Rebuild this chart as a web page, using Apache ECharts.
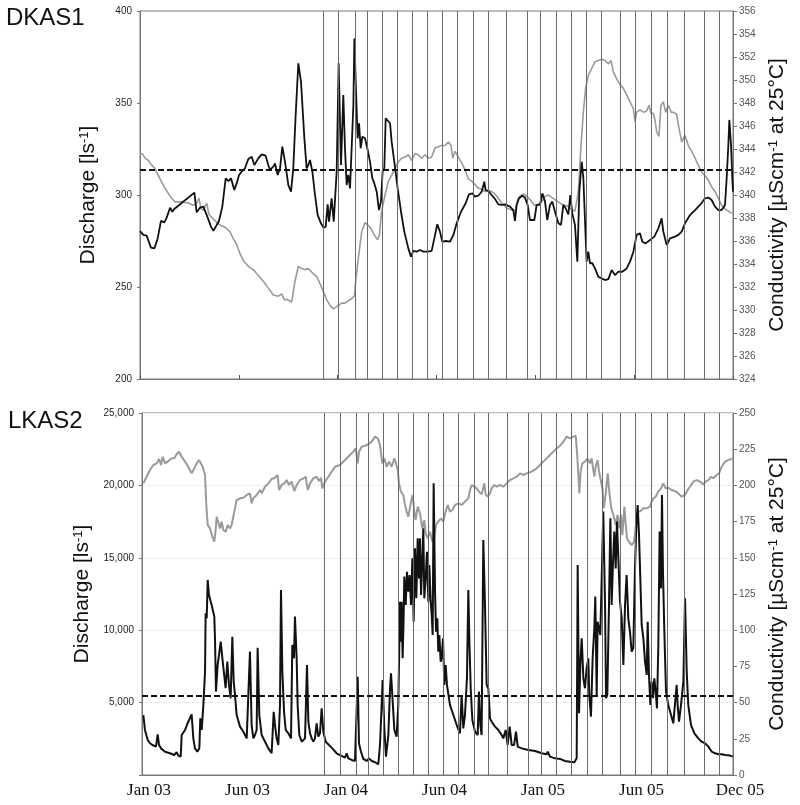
<!DOCTYPE html>
<html>
<head>
<meta charset="utf-8">
<title>DKAS1 / LKAS2</title>
<script src="https://cdn.jsdelivr.net/npm/echarts@6/dist/echarts.min.js"></script>
<style>
  html, body { margin: 0; padding: 0; background: #fff; }
  #chart { width: 800px; height: 805px; }
</style>
</head>
<body>
<div id="chart"></div>
<script>
// x is measured in label intervals: 0 = Jan 03 ... 6 = Dec 05
var xLabels = ['Jan 03', 'Jun 03', 'Jan 04', 'Jun 04', 'Jan 05', 'Jun 05', 'Dec 05'];

// sampling events (vertical lines), same in both panels
var eventMarks = [1.85, 2.01, 2.18, 2.30, 2.45, 2.60, 2.755, 2.907, 3.059, 3.213, 3.365, 3.52, 3.71,
  3.917, 4.05, 4.208, 4.36, 4.517, 4.669, 4.861, 5.01, 5.17, 5.328, 5.513, 5.705, 5.86];

var dkasMeanQ = 313.5;
var lkasMeanQ = 5450;

// DKAS1 discharge [l/s]
var dkasQ = [[0,280.4],[0.034,278.3],[0.067,277.9],[0.111,271.4],[0.145,271.0],[0.179,276.4],[0.212,285.9],[0.246,285.1],[0.270,287.7],[0.287,287.3],[0.304,293.1],[0.327,290.9],[0.347,292.4],[0.550,301.3],[0.573,290.6],[0.607,293.1],[0.641,293.7],[0.675,289.1],[0.718,282.8],[0.742,280.6],[0.776,283.7],[0.799,285.9],[0.833,293.7],[0.867,309.1],[0.894,307.6],[0.921,309.1],[0.954,302.7],[0.978,306.3],[1.002,310.9],[1.029,312.7],[1.062,314.5],[1.096,319.6],[1.130,320.8],[1.157,316.3],[1.197,319.9],[1.231,322.1],[1.271,321.4],[1.298,316.3],[1.315,313.6],[1.349,315.4],[1.366,317.2],[1.393,310.9],[1.417,314.5],[1.440,326.3],[1.467,318.1],[1.501,305.4],[1.528,301.8],[1.551,314.5],[1.575,343.5],[1.602,371.6],[1.629,361.6],[1.663,330.8],[1.686,314.5],[1.703,316.3],[1.720,319.0],[1.744,312.7],[1.771,300.0],[1.798,289.1],[1.831,284.6],[1.858,282.2],[1.879,282.8],[1.899,294.9],[1.912,285.5],[1.939,298.2],[1.960,285.5],[1.973,284.6],[1.990,312.7],[2.010,371.6],[2.034,316.3],[2.057,354.3],[2.074,325.4],[2.091,305.4],[2.108,310.9],[2.125,303.6],[2.142,303.6],[2.159,348.9],[2.169,385.1],[2.186,356.2],[2.202,330.8],[2.216,339.0],[2.233,325.4],[2.250,331.7],[2.277,330.8],[2.300,325.4],[2.327,318.1],[2.351,309.1],[2.371,306.3],[2.395,301.8],[2.418,291.8],[2.438,296.4],[2.455,312.7],[2.472,314.5],[2.486,341.7],[2.506,340.8],[2.530,339.0],[2.546,329.0],[2.573,318.1],[2.607,303.6],[2.641,290.9],[2.674,280.1],[2.715,271.0],[2.742,266.5],[2.766,269.6],[2.799,269.2],[2.833,270.1],[2.867,269.2],[2.911,269.2],[2.951,269.6],[2.978,276.4],[3.008,284.1],[3.035,280.1],[3.059,274.6],[3.093,275.0],[3.137,274.6],[3.171,278.3],[3.204,284.6],[3.248,290.9],[3.295,295.5],[3.329,300.4],[3.363,300.9],[3.390,299.1],[3.423,299.6],[3.457,301.8],[3.484,307.2],[3.497,302.7],[3.524,302.2],[3.558,300.0],[3.592,297.8],[3.626,294.9],[3.659,294.6],[3.693,294.9],[3.744,293.7],[3.777,291.8],[3.794,285.9],[3.811,294.6],[3.835,298.2],[3.868,299.6],[3.895,298.6],[3.922,294.6],[3.946,286.4],[3.990,286.4],[4.013,294.6],[4.047,294.6],[4.071,300.9],[4.098,296.4],[4.121,286.4],[4.148,294.6],[4.172,296.4],[4.199,290.9],[4.233,284.6],[4.260,283.7],[4.283,294.6],[4.307,292.8],[4.334,289.5],[4.354,300.0],[4.374,290.0],[4.401,283.7],[4.425,263.8],[4.445,301.8],[4.469,318.1],[4.486,309.1],[4.503,285.5],[4.519,263.8],[4.536,269.2],[4.553,262.9],[4.577,262.9],[4.604,260.1],[4.637,255.6],[4.671,254.7],[4.705,253.8],[4.739,254.3],[4.772,259.2],[4.806,256.5],[4.840,258.3],[4.880,258.3],[4.924,260.1],[4.958,263.8],[4.992,269.2],[5.025,278.3],[5.059,279.2],[5.083,274.6],[5.116,273.7],[5.160,275.5],[5.204,277.4],[5.245,281.9],[5.278,287.3],[5.295,280.1],[5.329,272.8],[5.363,276.4],[5.413,277.4],[5.447,278.3],[5.481,280.1],[5.514,284.6],[5.565,289.1],[5.616,291.8],[5.666,294.6],[5.717,298.2],[5.750,298.6],[5.784,297.3],[5.818,293.7],[5.852,291.8],[5.885,291.8],[5.919,294.6],[5.936,309.1],[5.953,327.2],[5.963,340.8],[5.980,327.2],[5.993,309.1],[6.0,301.8]];

// DKAS1 conductivity [uS/cm at 25 C]
var dkasC = [[0,343.5],[0.024,343.6],[0.051,343.2],[0.084,343.0],[0.118,342.6],[0.152,342.3],[0.202,341.4],[0.253,340.6],[0.304,339.9],[0.354,339.4],[0.422,339.4],[0.489,339.3],[0.540,339.1],[0.573,339.3],[0.597,339.7],[0.617,338.8],[0.641,338.7],[0.675,339.3],[0.698,338.3],[0.732,338.0],[0.766,337.7],[0.809,337.4],[0.860,337.2],[0.911,336.8],[0.944,336.2],[0.978,335.7],[1.012,334.9],[1.046,334.3],[1.096,333.8],[1.147,333.5],[1.197,333.0],[1.248,332.5],[1.298,331.9],[1.349,331.3],[1.400,331.2],[1.433,331.4],[1.460,330.9],[1.494,330.9],[1.535,330.7],[1.568,332.5],[1.602,333.8],[1.636,333.6],[1.669,333.5],[1.703,333.6],[1.737,333.3],[1.788,332.9],[1.821,332.3],[1.855,331.6],[1.889,330.9],[1.922,330.4],[1.956,330.1],[1.990,330.3],[2.040,330.6],[2.074,330.6],[2.108,330.8],[2.142,331.0],[2.169,331.2],[2.186,332.8],[2.209,334.5],[2.243,336.8],[2.277,337.6],[2.304,337.4],[2.337,337.1],[2.371,336.5],[2.405,336.1],[2.422,336.5],[2.445,338.6],[2.479,340.0],[2.513,341.2],[2.546,341.7],[2.580,342.3],[2.614,342.9],[2.648,343.2],[2.681,343.3],[2.715,343.5],[2.749,343.0],[2.782,343.6],[2.816,343.5],[2.850,343.2],[2.884,343.5],[2.917,343.2],[2.951,343.3],[2.985,344.1],[3.019,344.2],[3.052,344.3],[3.086,344.3],[3.120,344.6],[3.147,344.3],[3.164,343.2],[3.187,343.8],[3.221,343.3],[3.255,342.8],[3.288,342.2],[3.322,341.4],[3.356,341.2],[3.390,340.9],[3.423,340.6],[3.457,340.5],[3.491,340.3],[3.524,340.4],[3.558,340.3],[3.592,340.1],[3.626,339.7],[3.659,339.3],[3.693,339.0],[3.727,338.8],[3.761,338.7],[3.794,338.6],[3.821,339.6],[3.845,339.9],[3.879,340.1],[3.912,339.9],[3.946,339.6],[3.990,339.1],[4.030,339.2],[4.064,339.4],[4.098,339.9],[4.132,340.0],[4.165,339.8],[4.199,339.6],[4.233,339.4],[4.267,339.2],[4.300,339.1],[4.334,339.0],[4.368,338.7],[4.401,338.6],[4.435,340.3],[4.462,344.3],[4.486,347.2],[4.509,349.3],[4.536,350.4],[4.570,351.0],[4.604,351.6],[4.637,351.7],[4.671,351.8],[4.705,351.7],[4.739,351.4],[4.766,351.7],[4.789,350.7],[4.823,350.1],[4.857,349.6],[4.890,349.3],[4.924,348.7],[4.958,348.1],[4.992,347.5],[5.008,346.4],[5.025,347.2],[5.059,347.4],[5.093,347.2],[5.126,347.3],[5.150,347.8],[5.170,347.1],[5.194,347.1],[5.211,346.5],[5.228,345.5],[5.251,345.1],[5.271,347.8],[5.295,348.1],[5.319,347.2],[5.346,347.8],[5.373,347.2],[5.396,347.2],[5.430,347.0],[5.447,346.1],[5.481,344.6],[5.514,345.2],[5.548,344.3],[5.582,343.8],[5.616,343.2],[5.649,342.6],[5.683,342.0],[5.717,341.7],[5.750,341.3],[5.784,340.7],[5.818,340.3],[5.852,339.7],[5.885,339.1],[5.919,338.8],[5.953,338.6],[5.987,338.4]];

// LKAS2 discharge [l/s]
var lkasQ = [[0.014,4140],[0.030,3110],[0.058,2420],[0.081,2190],[0.105,2070],[0.125,2120],[0.142,1960],[0.159,2810],[0.173,2070],[0.193,1840],[0.234,1610],[0.284,1500],[0.328,1380],[0.352,1570],[0.369,1340],[0.393,1270],[0.403,2760],[0.437,3110],[0.470,3680],[0.504,4190],[0.521,2530],[0.538,1840],[0.562,1610],[0.582,1840],[0.592,3910],[0.606,3110],[0.623,4830],[0.640,7140],[0.646,11170],[0.657,10820],[0.667,13470],[0.680,12430],[0.707,11740],[0.734,10940],[0.741,9440],[0.751,5760],[0.768,7600],[0.782,8290],[0.799,9210],[0.816,8060],[0.832,8060],[0.849,5990],[0.866,7830],[0.883,6220],[0.900,5300],[0.917,9550],[0.931,6450],[0.944,5530],[0.961,4140],[0.995,3340],[1.029,2990],[1.063,2530],[1.080,2420],[1.096,8520],[1.113,3450],[1.130,2530],[1.147,2760],[1.164,3110],[1.174,8790],[1.191,4140],[1.215,2760],[1.249,2300],[1.283,1840],[1.316,1500],[1.337,4370],[1.350,3450],[1.367,2530],[1.384,2070],[1.401,4830],[1.411,12780],[1.425,7140],[1.442,4370],[1.459,3110],[1.486,2880],[1.513,2530],[1.526,8980],[1.543,8060],[1.553,10940],[1.570,8060],[1.580,4830],[1.597,2760],[1.621,2300],[1.655,2530],[1.675,7600],[1.689,3680],[1.706,2880],[1.723,2530],[1.739,2300],[1.756,2530],[1.773,3570],[1.790,2650],[1.807,2880],[1.824,4600],[1.841,2990],[1.865,2300],[1.898,2070],[1.932,1840],[1.976,1500],[2.010,1380],[2.027,1270],[2.061,1200],[2.078,1500],[2.095,1150],[2.129,1040],[2.162,970],[2.179,880],[2.190,6790],[2.203,2190],[2.223,1610],[2.247,1110],[2.281,970],[2.305,1150],[2.332,970],[2.366,880],[2.399,740],[2.416,2070],[2.433,4830],[2.443,6560],[2.460,3220],[2.477,1270],[2.501,2760],[2.518,5990],[2.528,7020],[2.541,5530],[2.562,3110],[2.585,2650],[2.602,4830],[2.609,7600],[2.619,11970],[2.629,9210],[2.636,11970],[2.646,8060],[2.656,10820],[2.663,13700],[2.677,11740],[2.690,14040],[2.704,12660],[2.717,13810],[2.731,11740],[2.745,14960],[2.758,10590],[2.772,15650],[2.785,12200],[2.799,16340],[2.812,13580],[2.822,16340],[2.833,12430],[2.846,14960],[2.856,17040],[2.866,12200],[2.880,13580],[2.893,15420],[2.907,11970],[2.917,14500],[2.931,11970],[2.941,11050],[2.951,9670],[2.961,20140],[2.975,12660],[2.985,9900],[2.998,10820],[3.008,8520],[3.019,9670],[3.032,7830],[3.042,8060],[3.056,9440],[3.069,6220],[3.083,7600],[3.096,6220],[3.127,4830],[3.161,4140],[3.195,3450],[3.228,2880],[3.245,5530],[3.262,3220],[3.279,4140],[3.299,6680],[3.313,12780],[3.323,9440],[3.337,5990],[3.354,3800],[3.381,2990],[3.408,2760],[3.421,5760],[3.435,3450],[3.448,2760],[3.465,16230],[3.482,11740],[3.499,6220],[3.516,5990],[3.533,3910],[3.550,3680],[3.584,3340],[3.618,3110],[3.651,2760],[3.668,2530],[3.692,3110],[3.712,2070],[3.733,3340],[3.753,2070],[3.777,2070],[3.797,2990],[3.814,1960],[3.855,1840],[3.922,1730],[3.990,1660],[4.058,1500],[4.108,1430],[4.118,1610],[4.142,1270],[4.193,1150],[4.244,1110],[4.294,970],[4.345,920],[4.389,880],[4.413,1150],[4.423,14500],[4.437,4260],[4.450,7600],[4.464,9440],[4.481,6680],[4.497,5990],[4.514,7370],[4.531,8060],[4.541,5530],[4.558,4030],[4.575,8060],[4.592,10130],[4.602,12320],[4.616,5530],[4.626,10590],[4.640,10590],[4.653,9670],[4.667,13580],[4.683,18190],[4.701,11740],[4.711,5300],[4.724,5530],[4.741,11740],[4.755,17730],[4.768,11740],[4.782,14730],[4.795,16810],[4.809,14270],[4.822,17500],[4.836,14960],[4.853,11970],[4.870,10820],[4.887,7600],[4.904,11740],[4.920,13810],[4.937,10820],[4.954,9900],[4.971,8520],[4.988,8750],[5.005,14270],[5.019,17270],[5.032,18650],[5.046,16570],[5.059,13580],[5.073,10360],[5.090,9440],[5.107,7830],[5.124,6910],[5.134,10590],[5.147,6910],[5.161,4830],[5.174,6450],[5.188,5300],[5.201,6680],[5.215,5760],[5.228,4600],[5.242,8980],[5.255,16810],[5.269,12890],[5.279,19340],[5.289,14040],[5.303,9900],[5.320,5760],[5.343,4830],[5.371,4140],[5.394,3570],[5.411,3450],[5.428,6220],[5.438,4830],[5.452,3680],[5.472,4830],[5.496,6450],[5.513,12200],[5.530,7140],[5.546,4830],[5.574,3450],[5.608,2880],[5.648,2530],[5.682,2300],[5.716,2190],[5.750,1960],[5.784,1610],[5.818,1500],[5.852,1430],[5.886,1430],[5.920,1380],[5.970,1340],[5.997,1270]];

// LKAS2 conductivity [uS/cm at 25 C]
var lkasC = [[0.014,201.4],[0.047,206.0],[0.081,210.6],[0.115,214.1],[0.149,215.2],[0.173,218.2],[0.193,214.1],[0.210,219.8],[0.234,215.2],[0.267,216.8],[0.301,218.7],[0.328,218.7],[0.352,221.5],[0.376,223.3],[0.403,219.8],[0.437,216.4],[0.470,212.9],[0.504,208.3],[0.531,211.8],[0.555,215.2],[0.579,217.5],[0.596,218.7],[0.616,212.9],[0.640,207.2],[0.653,186.5],[0.667,172.7],[0.690,170.3],[0.714,164.6],[0.734,161.1],[0.748,169.2],[0.758,178.4],[0.775,179.6],[0.792,170.3],[0.809,175.0],[0.826,169.2],[0.849,168.0],[0.870,172.7],[0.893,170.3],[0.910,172.7],[0.927,178.4],[0.944,184.2],[0.961,189.9],[0.995,191.1],[1.029,191.5],[1.063,193.4],[1.096,194.5],[1.113,187.6],[1.130,191.1],[1.164,193.4],[1.198,196.8],[1.215,194.5],[1.249,199.1],[1.283,201.4],[1.316,204.4],[1.350,205.3],[1.377,207.2],[1.391,196.8],[1.418,200.3],[1.445,201.4],[1.469,203.7],[1.492,200.3],[1.519,202.6],[1.547,196.1],[1.570,200.3],[1.604,203.7],[1.638,204.9],[1.662,206.0],[1.682,196.8],[1.706,201.4],[1.739,204.9],[1.773,206.0],[1.797,203.0],[1.817,205.3],[1.831,198.0],[1.858,202.6],[1.892,206.0],[1.926,209.5],[1.959,212.9],[2.010,214.1],[2.061,217.5],[2.112,221.0],[2.146,223.3],[2.169,225.6],[2.190,215.2],[2.203,223.3],[2.230,226.7],[2.264,227.4],[2.298,228.4],[2.332,230.2],[2.366,233.7],[2.393,232.5],[2.416,227.9],[2.440,215.2],[2.460,218.7],[2.484,212.9],[2.508,216.4],[2.535,212.9],[2.562,218.7],[2.579,215.2],[2.596,210.6],[2.609,201.4],[2.629,195.7],[2.653,193.4],[2.670,186.5],[2.687,181.9],[2.704,178.4],[2.731,188.8],[2.748,193.4],[2.765,181.9],[2.778,176.1],[2.799,185.3],[2.822,180.7],[2.846,170.3],[2.866,176.1],[2.880,166.9],[2.900,163.4],[2.924,168.0],[2.948,161.1],[2.968,164.6],[2.985,172.7],[3.008,175.0],[3.035,177.3],[3.059,175.0],[3.083,181.9],[3.103,186.5],[3.127,181.9],[3.151,183.0],[3.178,186.5],[3.212,187.6],[3.245,186.5],[3.279,188.8],[3.313,191.1],[3.330,196.8],[3.347,200.3],[3.374,199.1],[3.398,198.0],[3.421,195.7],[3.448,193.8],[3.475,201.4],[3.489,193.8],[3.509,192.2],[3.533,194.5],[3.550,198.0],[3.577,200.3],[3.601,199.1],[3.635,200.3],[3.668,199.1],[3.702,201.4],[3.736,203.7],[3.770,204.9],[3.804,206.0],[3.838,208.3],[3.871,207.2],[3.905,208.3],[3.956,209.5],[4.007,211.8],[4.024,212.9],[4.074,216.4],[4.125,219.8],[4.176,223.3],[4.210,225.6],[4.244,227.4],[4.278,230.2],[4.311,233.7],[4.345,232.5],[4.379,233.7],[4.403,234.3],[4.416,223.3],[4.430,207.2],[4.440,194.5],[4.453,209.5],[4.470,215.2],[4.497,216.4],[4.524,218.7],[4.548,215.2],[4.565,218.7],[4.582,219.8],[4.592,206.0],[4.609,214.1],[4.626,217.5],[4.640,209.5],[4.657,203.7],[4.677,196.8],[4.687,184.2],[4.707,193.4],[4.728,208.3],[4.741,198.0],[4.761,185.3],[4.775,186.5],[4.795,177.3],[4.809,172.7],[4.829,179.6],[4.846,170.3],[4.863,179.6],[4.877,165.7],[4.897,185.3],[4.910,173.8],[4.924,163.4],[4.944,161.1],[4.971,158.8],[4.995,161.1],[5.015,172.7],[5.032,181.9],[5.056,181.9],[5.090,184.2],[5.124,184.2],[5.157,185.3],[5.174,188.8],[5.194,191.1],[5.215,192.2],[5.242,195.7],[5.269,198.0],[5.292,201.4],[5.316,198.0],[5.343,198.4],[5.377,196.8],[5.411,196.1],[5.445,194.5],[5.479,192.2],[5.513,193.4],[5.540,196.8],[5.563,199.1],[5.597,202.6],[5.631,203.7],[5.665,202.6],[5.699,200.7],[5.723,202.6],[5.750,203.7],[5.777,206.0],[5.800,204.9],[5.834,207.2],[5.858,208.3],[5.885,212.9],[5.919,216.4],[5.953,217.5],[5.997,218.7]];

var chart = echarts.init(document.getElementById('chart'));

var sans = 'Liberation Sans, Arial, sans-serif';
var axisGray = '#777';

function nameRich() {
  return {
    n: { fontSize: 21, fontFamily: sans, color: '#111', verticalAlign: 'bottom' },
    s: { fontSize: 13, fontFamily: sans, color: '#111', verticalAlign: 'top' }
  };
}

function eventLines() {
  return {
    silent: true,
    symbol: 'none',
    label: { show: false },
    lineStyle: { color: '#6a6a6a', width: 1, type: 'solid' },
    data: eventMarks.map(function (x) { return { xAxis: x }; })
  };
}

function meanLine(v) {
  return {
    silent: true,
    symbol: 'none',
    label: { show: false },
    lineStyle: { color: '#111', width: 2, type: [6, 3] },
    data: [{ yAxis: v }]
  };
}

function leftAxis(grid, min, max, step, nm, fmt) {
  return {
    gridIndex: grid, type: 'value', position: 'left', min: min, max: max, interval: step,
    axisLine: { show: true, lineStyle: { color: axisGray } },
    axisTick: { show: true, length: 3, lineStyle: { color: axisGray } },
    axisLabel: { fontSize: 10, fontFamily: sans, color: '#222', margin: 8, formatter: fmt },
    splitLine: { show: grid === 1, lineStyle: { color: '#efefef' } },
    name: nm, nameLocation: 'middle', nameRotate: 90, nameGap: 41,
    nameTextStyle: { rich: nameRich() }
  };
}

function rightAxis(grid, min, max, step) {
  return {
    gridIndex: grid, type: 'value', position: 'right', min: min, max: max, interval: step,
    axisLine: { show: true, lineStyle: { color: axisGray } },
    axisTick: { show: true, length: 4, lineStyle: { color: axisGray } },
    axisLabel: { fontSize: 10, fontFamily: sans, color: '#555', margin: 6 },
    splitLine: { show: false },
    name: '{n|Conductivity [µScm}{s|-1}{n| at 25°C]}', nameLocation: 'middle', nameRotate: 90, nameGap: 34,
    nameTextStyle: { rich: nameRich() }
  };
}

chart.setOption({
  animation: false,
  title: [
    { text: 'DKAS1', left: 6, top: 6, padding: 0,
      textStyle: { fontSize: 24, fontWeight: 'normal', fontFamily: sans, color: '#111' } },
    { text: 'LKAS2', left: 8, top: 409, padding: 0,
      textStyle: { fontSize: 24, fontWeight: 'normal', fontFamily: sans, color: '#111' } }
  ],
  grid: [
    { left: 140, top: 11, width: 593, height: 368, show: true, borderColor: axisGray, borderWidth: 1 },
    { left: 142, top: 413, width: 591, height: 362, show: true, borderColor: axisGray, borderWidth: 1 }
  ],
  xAxis: [
    { gridIndex: 0, type: 'value', min: 0, max: 6, interval: 1,
      axisLine: { lineStyle: { color: axisGray } },
      axisTick: { show: true, inside: true, length: 4, lineStyle: { color: '#555' } },
      axisLabel: { show: false }, splitLine: { show: false } },
    { gridIndex: 1, type: 'value', min: 0, max: 6, interval: 1,
      axisLine: { lineStyle: { color: axisGray } },
      axisTick: { show: false },
      axisLabel: { fontSize: 17, fontFamily: 'Liberation Serif, Times New Roman, serif', color: '#111',
        margin: 7, padding: [0, 0, 0, 14],
        formatter: function (v) { return xLabels[Math.round(v)]; } },
      splitLine: { show: false } }
  ],
  yAxis: [
    leftAxis(0, 200, 400, 50, '{n|Discharge [ls}{s|-1}{n|]}'),
    rightAxis(0, 324, 356, 2),
    leftAxis(1, 0, 25000, 5000, '{n|Discharge [ls}{s|-1}{n|]}', function (v) {
      return v === 0 ? '' : v.toLocaleString('en-US');
    }),
    rightAxis(1, 0, 250, 25)
  ],
  series: [
    { name: 'DKAS1 conductivity', type: 'line', xAxisIndex: 0, yAxisIndex: 1, data: dkasC,
      showSymbol: false, lineStyle: { color: '#9a9a9a', width: 1.6 }, markLine: eventLines() },
    { name: 'DKAS1 discharge', type: 'line', xAxisIndex: 0, yAxisIndex: 0, data: dkasQ,
      showSymbol: false, lineStyle: { color: '#111', width: 1.8 }, markLine: meanLine(dkasMeanQ) },
    { name: 'LKAS2 conductivity', type: 'line', xAxisIndex: 1, yAxisIndex: 3, data: lkasC,
      showSymbol: false, lineStyle: { color: '#9a9a9a', width: 2 }, markLine: eventLines() },
    { name: 'LKAS2 discharge', type: 'line', xAxisIndex: 1, yAxisIndex: 2, data: lkasQ,
      showSymbol: false, lineStyle: { color: '#111', width: 2 }, markLine: meanLine(lkasMeanQ) }
  ]
});
</script>
</body>
</html>
